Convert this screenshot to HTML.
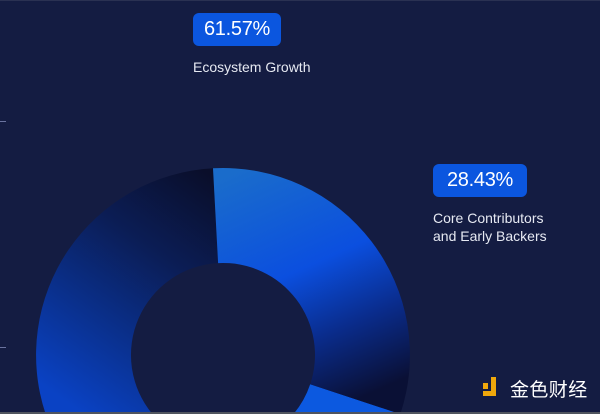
<!DOCTYPE html>
<html><head><meta charset="utf-8"><style>
html,body{margin:0;padding:0;width:600px;height:414px;overflow:hidden;}
body{background:#141c42;position:relative;font-family:"Liberation Sans","Noto Sans CJK SC",sans-serif;}
svg{position:absolute;left:0;top:0;display:block;}
.badge{position:absolute;background:#0b56df;border-radius:6px;color:#fff;font-size:20px;text-align:center;line-height:33px;height:33px;letter-spacing:-0.3px;}
.lbl{position:absolute;color:#e6e9f2;font-size:14px;line-height:18px;white-space:nowrap;}
.logo{position:absolute;left:510px;top:378px;height:22px;overflow:hidden;color:#fff;font-size:19px;line-height:22px;font-family:"Noto Sans CJK SC",sans-serif;letter-spacing:0.4px;white-space:nowrap;}
</style></head><body>
<svg width="600" height="414" viewBox="0 0 600 414">
<defs>
<linearGradient id="g1" gradientUnits="userSpaceOnUse" x1="225" y1="185" x2="70" y2="405">
<stop offset="0" stop-color="#0a0e2a"/>
<stop offset="0.35" stop-color="#0b1d55"/>
<stop offset="0.7" stop-color="#0a3190"/>
<stop offset="1" stop-color="#0a42c4"/>
</linearGradient>
<linearGradient id="g2" gradientUnits="userSpaceOnUse" x1="240" y1="170" x2="345" y2="405">
<stop offset="0" stop-color="#1a6ccb"/>
<stop offset="0.45" stop-color="#0b4fdf"/>
<stop offset="0.72" stop-color="#0a2c8c"/>
<stop offset="1" stop-color="#0a1035"/>
</linearGradient>
</defs>
<rect x="0" y="0" width="600" height="1" fill="#2a3152"/>
<rect x="0" y="121" width="6" height="1" fill="#6a73a0"/>
<rect x="0" y="347" width="6" height="1" fill="#6a73a0"/>
<path d="M152.4 414 A92 92 0 0 1 218.1 263.1 L213 168.3 A187 187 0 0 0 45.6 414 Z" fill="url(#g1)"/>
<path d="M310.2 384.3 L400.4 414 L293.6 414 A92 92 0 0 0 310.2 384.3 Z" fill="#0c59e0"/>
<path d="M213 168.3 A187 187 0 0 1 400.4 414 L310.2 384.3 A92 92 0 0 0 218.1 263.1 Z" fill="url(#g2)"/>
<rect x="483" y="383" width="5" height="6" fill="#f0a80c"/>
<rect x="491" y="377" width="5" height="19" fill="#f0a80c"/>
<rect x="483" y="391" width="13" height="5" fill="#f0a80c"/>
<rect x="0" y="412" width="600" height="2" fill="#50555f"/>
</svg>
<div class="badge" style="left:193px;top:13px;width:88px;">61.57%</div>
<div class="lbl" style="left:193px;top:58px;">Ecosystem Growth</div>
<div class="badge" style="left:433px;top:164px;width:94px;">28.43%</div>
<div class="lbl" style="left:433px;top:209px;">Core Contributors<br>and Early Backers</div>
<div class="logo">金色财经</div>
</body></html>
